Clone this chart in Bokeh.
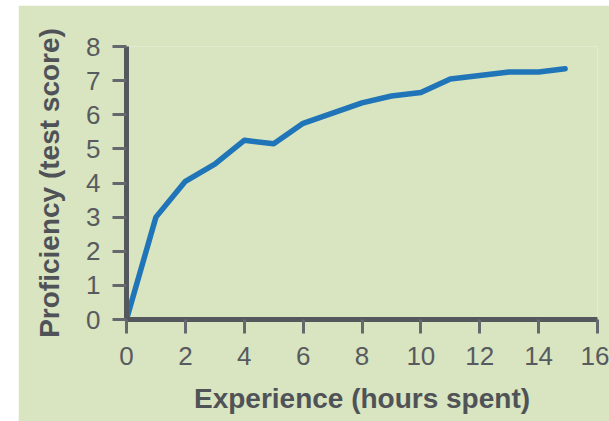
from bokeh.plotting import figure
from bokeh.models import Range1d, FixedTicker, Spacer
from bokeh.layouts import row, column
from bokeh.embed import file_html
from bokeh.resources import INLINE

hours = [0, 1, 2, 3, 4, 5, 6, 7, 8, 9, 10, 11, 12, 13, 14, 14.9]
scores = [0, 3.0, 4.05, 4.55, 5.25, 5.15, 5.75, 6.05, 6.35, 6.55, 6.65, 7.05, 7.15, 7.25, 7.25, 7.35]
x_ticks = [0, 2, 4, 6, 8, 10, 12, 14, 16]
y_ticks = [0, 1, 2, 3, 4, 5, 6, 7, 8]

BG = "#d9e4c0"
AXIS = "#54585c"
TEXT = "#575b5f"

p = figure(width=591, height=416, output_backend="svg", toolbar_location=None,
           x_range=Range1d(0, 16), y_range=Range1d(0, 8),
           min_border_left=108, min_border_right=12, min_border_top=41, min_border_bottom=102)
p.background_fill_color = BG
p.border_fill_color = BG
p.outline_line_color = None
p.grid.visible = False

p.line(hours, scores, line_color="#1f75b8", line_width=5.5, line_join="round", line_cap="round")

p.xaxis.ticker = FixedTicker(ticks=x_ticks)
p.yaxis.ticker = FixedTicker(ticks=y_ticks)
for ax in (p.xaxis, p.yaxis):
    ax.axis_line_color = AXIS
    ax.axis_line_width = 5
    ax.major_tick_line_color = "#65686c"
    ax.major_tick_line_width = 3
    ax.major_tick_in = 0
    ax.major_tick_out = 14
    ax.minor_tick_line_color = None
    ax.major_label_text_font = "Liberation Sans"
    ax.major_label_text_font_size = "26px"
    ax.major_label_text_color = TEXT
    ax.axis_label_text_font = "Liberation Sans"
    ax.axis_label_text_font_style = "bold"
    ax.axis_label_text_font_size = "28px"
    ax.axis_label_text_color = "#4f5357"

p.xaxis.axis_label = "Experience (hours spent)"
p.yaxis.axis_label = "Proficiency (test score)"
p.xaxis.major_label_standoff = 13
p.yaxis.major_label_standoff = 12
p.xaxis.axis_label_standoff = 15
p.yaxis.axis_label_standoff = 18

layout = column(Spacer(width=609, height=5), row(Spacer(width=18, height=416), p))
open("out.html", "w").write(file_html(layout, INLINE))
